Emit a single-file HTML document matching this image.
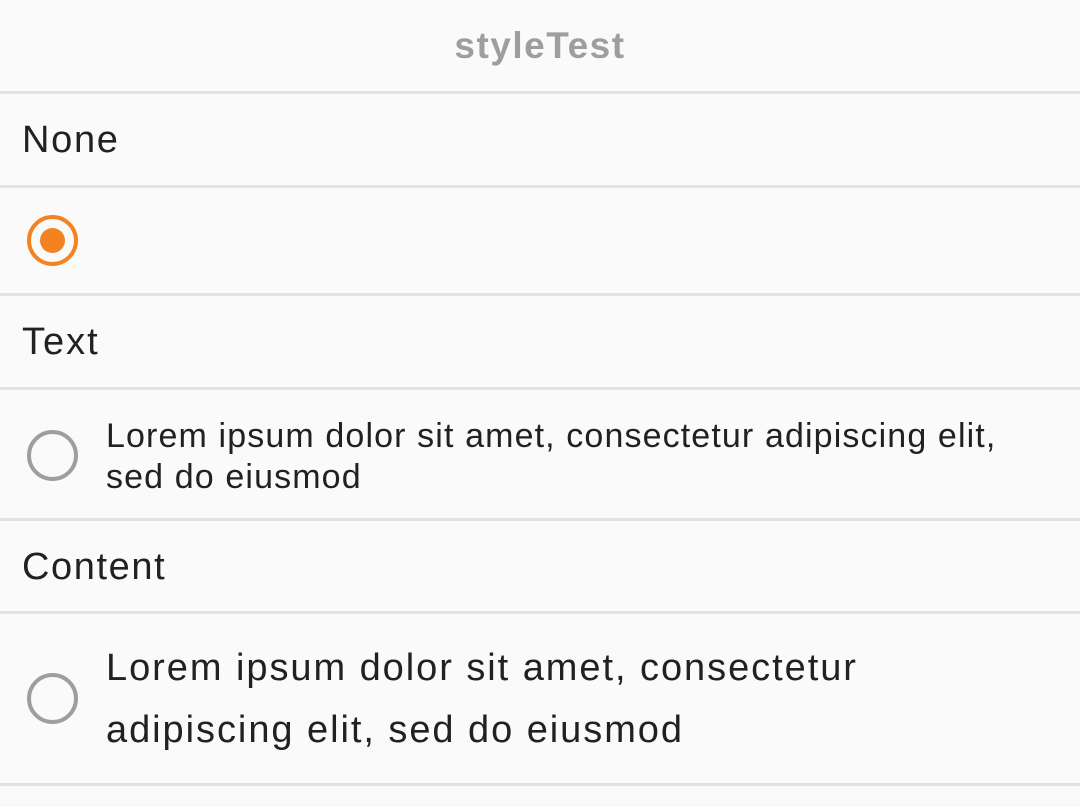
<!DOCTYPE html>
<html><head><meta charset="utf-8"><style>
body{margin:0;width:1080px;height:807px;background:#fafafa;font-family:"Liberation Sans",sans-serif;position:relative;overflow:hidden;color:#212121}
.d{position:absolute;left:0;width:1080px;height:3px;background:#e2e2e2}
.t{position:absolute;white-space:nowrap;line-height:1;letter-spacing:1.7px}
.r{position:absolute;box-sizing:border-box;border-radius:50%}
</style></head><body>
<div class="t" style="left:0;width:1080px;text-align:center;top:27px;font-size:37px;font-weight:bold;color:#9e9e9e;letter-spacing:1.5px">styleTest</div>
<div class="d" style="top:91px"></div>
<div class="t" style="left:22px;top:121px;font-size:38px">None</div>
<div class="d" style="top:185px"></div>
<div class="r" style="left:27px;top:215px;width:51px;height:51px;border:4.5px solid #f58220"></div>
<div class="r" style="left:40px;top:228px;width:25px;height:25px;background:#f58220"></div>
<div class="d" style="top:293px"></div>
<div class="t" style="left:22px;top:323px;font-size:38px;letter-spacing:2px">Text</div>
<div class="d" style="top:387px"></div>
<div class="r" style="left:27px;top:430px;width:51px;height:51px;border:4.5px solid #9e9e9e"></div>
<div class="t" style="left:106px;top:416px;font-size:34px;line-height:41px;letter-spacing:1.12px">Lorem ipsum dolor sit amet, consectetur adipiscing elit,<br>sed do eiusmod</div>
<div class="d" style="top:518px"></div>
<div class="t" style="left:22px;top:548px;font-size:38px;letter-spacing:1.6px">Content</div>
<div class="d" style="top:611px"></div>
<div class="r" style="left:27px;top:673px;width:51px;height:51px;border:4.5px solid #9e9e9e"></div>
<div class="t" style="left:106px;top:637px;font-size:38px;line-height:62px;letter-spacing:1.95px">Lorem ipsum dolor sit amet, consectetur<br>adipiscing elit, sed do eiusmod</div>
<div class="d" style="top:783px"></div>
</body></html>
